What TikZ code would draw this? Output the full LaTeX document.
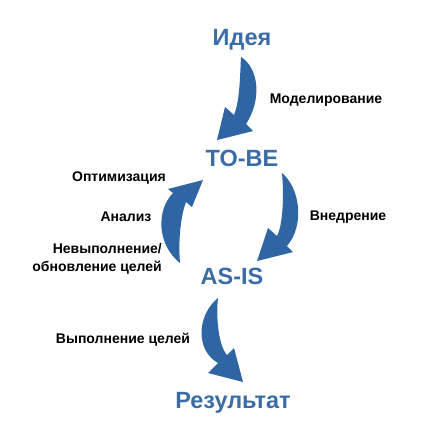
\documentclass[tikz,border=0pt]{standalone}
\usepackage{fontspec}
\setmainfont{Liberation Sans}
\usepackage{tikz}
\usetikzlibrary{positioning}
\definecolor{TitleBlue}{HTML}{3A6CA5}
\definecolor{ArrowBlue}{HTML}{2F65A3}

\begin{document}
\begin{tikzpicture}[x=1pt,y=-1pt]
  \tikzset{
    stage/.style={inner sep=0pt, text=TitleBlue,
      font=\fontsize{23.5}{26}\selectfont\bfseries},
    lbl/.style={inner sep=0pt, align=center,
      font=\fontsize{14}{18}\selectfont\bfseries},
    bigarrow/.style={fill=ArrowBlue, draw=none}
  }
  \useasboundingbox (0,0) rectangle (422,442);

  \node[stage] (idea)   at (242,40)  {Идея};
  \node[stage] (tobe)   at (242,158) {TO-BE};
  \node[stage] (asis)   at (232,276) {AS-IS};
  \node[stage] (result) at (233,403) {Результат};

  \node[lbl] (model) at (326,100) {Моделирование};
  \node[lbl] (optim) at (119,178) {Оптимизация};
  \node[lbl] (anal)  at (126,217) {Анализ};
  \node[lbl, align=right, anchor=east] (fail) at (162,259)
    {Невыполнение/\\обновление целей};
  \node[lbl] (impl)  at (348,217) {Внедрение};
  \node[lbl] (done)  at (123,340) {Выполнение целей};

  % idea -> to-be
  \fill[bigarrow] (241,57) .. controls (259,68) and (262,100) .. (246,124)
    -- (253,131) -- (217,140) -- (225,107) -- (234,115)
    .. controls (240,100) and (240,75) .. (241,57) -- cycle;
  % to-be -> as-is
  \fill[bigarrow] (282,173) .. controls (300,188) and (305,225) .. (287,246)
    -- (293,252) -- (257,261) -- (268,228) -- (277,236)
    .. controls (283,225) and (284,195) .. (282,173) -- cycle;
  % as-is -> to-be
  \fill[bigarrow] (180,263) .. controls (157,245) and (156,210) .. (173,193)
    -- (168,189) -- (203,180) -- (192,207) -- (186,202)
    .. controls (181,215) and (178,240) .. (180,263) -- cycle;
  % as-is -> result
  \fill[bigarrow] (218,298) .. controls (197,315) and (195,350) .. (218,363)
    -- (208,373) -- (243,382) -- (234,348) -- (227,355)
    .. controls (218,345) and (216,315) .. (218,298) -- cycle;
\end{tikzpicture}
\end{document}
